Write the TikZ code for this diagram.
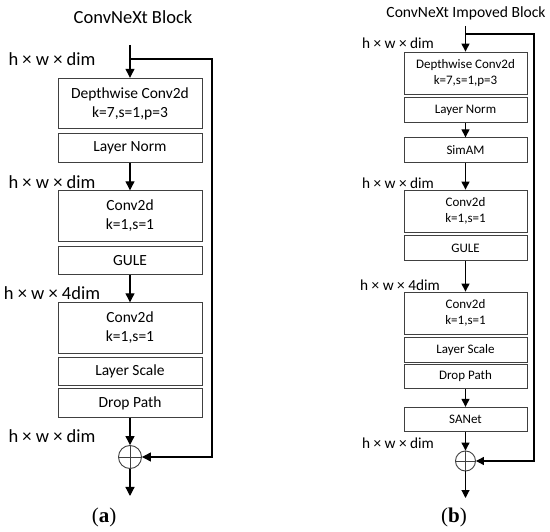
\documentclass[tikz,border=0pt]{standalone}
\usepackage{fontspec}
\setmainfont{Carlito}
\newfontfamily\capfont{Liberation Serif}
\usepackage{tikz}
\usetikzlibrary{arrows.meta, calc}

\tikzset{
    boxA/.style={draw=black!75, line width=0.9pt, minimum width=144pt, minimum height=28.5pt,
        inner sep=0pt, align=center, font=\fontsize{15.5}{19}\selectfont},
    tallA/.style={boxA, minimum height=50.5pt},
    boxB/.style={draw=black!75, line width=0.8pt, minimum width=123pt, minimum height=24.5pt,
        inner sep=0pt, align=center, font=\fontsize{13}{16.5}\selectfont},
    tallB/.style={boxB, minimum height=42pt},
    arrA/.style={line width=1.2pt, -{Triangle[width=9pt,length=9pt]}},
    arrB/.style={line width=1.1pt, -{Triangle[width=8pt,length=8pt]}},
    sumnode/.style={circle, draw=black!75, line width=0.9pt, minimum size=#1, inner sep=0pt},
    dimA/.style={font=\fontsize{18.5}{20}\selectfont},
    dimB/.style={font=\fontsize{15.3}{17}\selectfont},
}

\begin{document}
\begin{tikzpicture}[x=1pt, y=-1pt]
    \useasboundingbox (0,0) rectangle (550,532);

    % (a) ConvNeXt Block
    \begin{scope}
        \node[font=\fontsize{18.5}{20}\selectfont] (titleA) at (133,17) {ConvNeXt Block};
        \node[tallA] (dwA) at (130,103.5) {Depthwise Conv2d\\k=7,s=1,p=3};
        \node[boxA] (lnA) at (130,148) {Layer Norm};
        \node[tallA] (convA1) at (130,216) {Conv2d\\k=1,s=1};
        \node[boxA] (guleA) at (130,260.5) {GULE};
        \node[tallA] (convA2) at (130,328) {Conv2d\\k=1,s=1};
        \node[boxA] (lsA) at (130,371.5) {Layer Scale};
        \node[boxA] (dpA) at (130,403) {Drop Path};
        \node[sumnode=23pt] (sumA) at (130,457) {};
        \draw[line width=0.9pt, black!75] (sumA.north) -- (sumA.south) (sumA.west) -- (sumA.east);

        \node[dimA] (dimA1) at (52,59) {h × w × dim};
        \node[dimA] (dimA2) at (52,182) {h × w × dim};
        \node[dimA] (dimA3) at (52,293) {h × w × 4dim};
        \node[dimA] (dimA4) at (52,436) {h × w × dim};

        \coordinate (inA) at (130,45);
        \coordinate (splitA) at (130,59);
        \coordinate (cornerA) at (212,59);
        \coordinate (outA) at (130,496);
        \draw[arrA] (inA) -- (dwA);
        \draw[arrA] (lnA) -- (convA1);
        \draw[arrA] (guleA) -- (convA2);
        \draw[arrA] (dpA) -- (sumA);
        \draw[arrA] (sumA) -- (outA);
        \draw[arrA] (splitA) -- (cornerA) |- (sumA);

        \node[font=\capfont\fontsize{21}{23}\selectfont] (capA) at (104,517) {(\textbf{a})};
    \end{scope}

    % (b) ConvNeXt Impoved Block
    \begin{scope}
        \node[font=\fontsize{15.6}{18}\selectfont] (titleB) at (466,13) {ConvNeXt Impoved Block};
        \node[tallB] (dwB) at (465.5,73) {Depthwise Conv2d\\k=7,s=1,p=3};
        \node[boxB] (lnB) at (465.5,110) {Layer Norm};
        \node[boxB] (simB) at (465.5,150) {SimAM};
        \node[tallB] (convB1) at (465.5,211) {Conv2d\\k=1,s=1};
        \node[boxB] (guleB) at (465.5,248) {GULE};
        \node[tallB] (convB2) at (465.5,313) {Conv2d\\k=1,s=1};
        \node[boxB] (lsB) at (465.5,350) {Layer Scale};
        \node[boxB] (dpB) at (465.5,376.5) {Drop Path};
        \node[boxB] (saB) at (465.5,419.5) {SANet};
        \node[sumnode=20pt] (sumB) at (465.5,461) {};
        \draw[line width=0.8pt, black!75] (sumB.north) -- (sumB.south) (sumB.west) -- (sumB.east);

        \node[dimB] (dimB1) at (398,43) {h × w × dim};
        \node[dimB] (dimB2) at (398,183) {h × w × dim};
        \node[dimB] (dimB3) at (400,285) {h × w × 4dim};
        \node[dimB] (dimB4) at (398,443) {h × w × dim};

        \coordinate (inB) at (465.5,26);
        \coordinate (splitB) at (465.5,34);
        \coordinate (cornerB) at (534,34);
        \coordinate (outB) at (465.5,498);
        \draw[arrB] (inB) -- (dwB);
        \draw[arrB] (lnB) -- (simB);
        \draw[arrB] (simB) -- (convB1);
        \draw[arrB] (guleB) -- (convB2);
        \draw[arrB] (dpB) -- (saB);
        \draw[arrB] (saB) -- (sumB);
        \draw[arrB] (sumB) -- (outB);
        \draw[arrB] (splitB) -- (cornerB) |- (sumB);

        \node[font=\capfont\fontsize{21}{23}\selectfont] (capB) at (454,517) {(\textbf{b})};
    \end{scope}
\end{tikzpicture}
\end{document}
